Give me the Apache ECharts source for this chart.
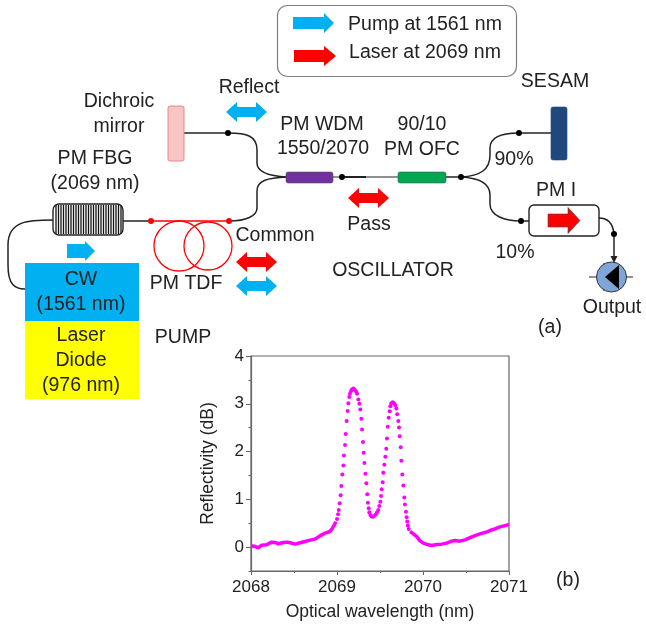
<!DOCTYPE html>
<html><head><meta charset="utf-8">
<style>html,body{margin:0;padding:0;background:#fff}#c{width:646px;height:624px}</style>
<script src="https://cdn.jsdelivr.net/npm/echarts@6/dist/echarts.min.js"></script>
</head><body><div id="c"></div>
<script>
// ---- chart data ----
const xTicks=[2068,2069,2070,2071];
const yTicks=[0,1,2,3,4];
const yHalfTicks=[-0.5,0.5,1.5,2.5,3.5];
const leftWl=[2068,2068.047,2068.085,2068.124,2068.182,2068.24,2068.279,2068.318,2068.376,2068.415,2068.453,2068.512,2068.57,2068.628,2068.686,2068.744,2068.802,2068.86,2068.919,2068.946,2068.97,2068.985];
const leftVal=[0.027,0.013,-0.015,0.04,0.048,0.104,0.097,0.07,0.097,0.104,0.09,0.062,0.09,0.117,0.146,0.167,0.236,0.292,0.326,0.397,0.466,0.535];
const peakWl=[2069,2069.012,2069.02,2069.031,2069.043,2069.05,2069.062,2069.074,2069.081,2069.093,2069.101,2069.112,2069.124,2069.132,2069.143,2069.151,2069.163,2069.174,2069.19,2069.202,2069.221,2069.233,2069.248,2069.26,2069.271,2069.283,2069.291,2069.302,2069.31,2069.319,2069.33,2069.341,2069.352,2069.36,2069.369,2069.376,2069.387,2069.403,2069.419,2069.434,2069.45,2069.465,2069.48,2069.492,2069.504,2069.512,2069.52,2069.531,2069.538,2069.55,2069.562,2069.573,2069.581,2069.59,2069.601,2069.613,2069.62,2069.631,2069.648,2069.663,2069.678,2069.69,2069.7,2069.713,2069.721,2069.729,2069.741,2069.748,2069.759,2069.771,2069.783,2069.79,2069.802,2069.81,2069.817,2069.824,2069.834];
const peakVal=[0.59,0.689,0.779,0.918,1.086,1.28,1.52,1.71,1.92,2.135,2.37,2.64,2.85,3.01,3.14,3.21,3.27,3.3,3.32,3.3,3.26,3.21,3.09,3,2.88,2.685,2.46,2.2,1.975,1.76,1.537,1.336,1.106,0.93,0.814,0.73,0.674,0.64,0.633,0.653,0.68,0.722,0.779,0.862,0.952,1.07,1.21,1.357,1.558,1.725,1.89,2.06,2.275,2.52,2.71,2.845,2.95,3.01,3.03,3.01,2.97,2.9,2.78,2.64,2.505,2.32,2.09,1.81,1.52,1.29,1.04,0.89,0.74,0.626,0.535,0.45,0.38];
const rightWl=[2069.849,2069.888,2069.927,2069.965,2070.004,2070.062,2070.101,2070.16,2070.217,2070.275,2070.333,2070.372,2070.43,2070.488,2070.547,2070.605,2070.663,2070.72,2070.779,2070.837,2070.895,2070.953,2071];
const rightVal=[0.326,0.278,0.22,0.13,0.083,0.048,0.033,0.054,0.062,0.083,0.125,0.138,0.125,0.152,0.2,0.242,0.278,0.305,0.347,0.382,0.424,0.45,0.472];
const zip=(a,b)=>a.map((v,i)=>[v,b[i]]);

// ---- schematic helpers (diagram decoration, laid out on the page) ----
const INK='#222', FONT='"Liberation Sans",Arial,sans-serif';
const BLUE='#00b0f0', RED='#ff0000';
const g=[];
const T=(s,x,y,size=19.5,extra={})=>g.push({type:'text',x,y,z:10,style:Object.assign({text:s,fill:INK,font:size+'px '+FONT,textAlign:'center',textVerticalAlign:'middle'},extra)});
const L=(x1,y1,x2,y2,c='#222',w=1.5)=>g.push({type:'line',z:3,shape:{x1,y1,x2,y2},style:{stroke:c,lineWidth:w}});
const C=(x1,y1,a,b,p,q,x2,y2,c='#222',w=1.5)=>g.push({type:'bezierCurve',z:3,shape:{x1,y1,cpx1:a,cpy1:b,cpx2:p,cpy2:q,x2,y2},style:{stroke:c,lineWidth:w,fill:null}});
const D=(x,y,c='#000',r=3)=>g.push({type:'circle',z:6,shape:{cx:x,cy:y,r},style:{fill:c}});
const R=(x,y,width,height,r,fill,stroke,w=1.2)=>g.push({type:'rect',z:4,shape:{x,y,width,height,r},style:{fill,stroke:stroke||null,lineWidth:w}});
const A1=(x1,x2,y,tw,hw,hl,c,stroke)=>g.push({type:'polygon',z:5,shape:{points:[[x1,y-tw],[x2-hl,y-tw],[x2-hl,y-hw],[x2,y],[x2-hl,y+hw],[x2-hl,y+tw],[x1,y+tw]]},style:{fill:c,stroke:stroke||null,lineWidth:stroke?0.6:0}});
const A2=(x1,x2,y,tw,hw,hl,c)=>g.push({type:'polygon',z:5,shape:{points:[[x1,y],[x1+hl,y-hw],[x1+hl,y-tw],[x2-hl,y-tw],[x2-hl,y-hw],[x2,y],[x2-hl,y+hw],[x2-hl,y+tw],[x1+hl,y+tw],[x1+hl,y+hw]]},style:{fill:c}});

// legend box
R(277.5,5.5,239,71,10,'#fff','#7f7f7f',1.2);
A1(293,334,23,6,10,10,BLUE);
A1(294,336,56,6,10,12,RED);
T('Pump at 1561 nm',425,25);
T('Laser at 2069 nm',425,53);

// upper branch
T('Reflect',249,88); A2(226,267,112,5,10,11,BLUE);
T('Dichroic',119,102); T('mirror',119,127);
R(168,106,16,55,2,'#f8c4c4','#e08c8c',1);
L(184,133,228,133); D(228,133);
C(228,133,247,133,257,136,257,150); L(257,150,257,163);
C(257,163,257,172,268,176,287,177);
C(287,177,268,178,257,180,257,191); L(257,191,257,208);
C(257,208,257,216,246,221,229,221);
T('PM WDM',322,125); T('1550/2070',323,149);
R(286,172,47,11,2,'#7030a0','#555',0.6);

// FBG
T('PM FBG',95,159); T('(2069 nm)',95,184);
for(let x=56;x<122;x+=2.5) L(x,205,x,234,'#111',1.3);
g.push({type:'rect',z:5,shape:{x:53,y:204,width:70,height:31,r:6},style:{fill:null,stroke:'#222',lineWidth:1.4}});
L(123,221,151,221);
C(53,220,30,220,8,220,8,245); L(8,245,8,265);
C(8,265,8,285,15,289,25,289);
A1(67,95,251,7,10,10,BLUE);

// TDF
L(151,221,229,221,RED,1.5); D(151,221,RED,3); D(229,221,RED,3);
g.push({type:'circle',z:3,shape:{cx:179,cy:246,r:25},style:{fill:null,stroke:RED,lineWidth:1.3}});
g.push({type:'circle',z:3,shape:{cx:208,cy:246,r:24},style:{fill:null,stroke:RED,lineWidth:1.3}});
T('PM TDF',186,284); T('Common',275,236);
A2(236,277,262,5,10,11,RED); A2(236,277,286,5,10,11,BLUE);

// pump
R(25,263,114,58,0,BLUE); R(25,321,114,78,0,'#ffff00');
T('CW',81,280); T('(1561 nm)',81,305);
T('Laser',81,336); T('Diode',81,361); T('(976 nm)',81,386);
T('PUMP',183,338);

// middle
L(333,177,398,177,'#222',1.2); L(342,177,366,177,'#222',2); D(342,177);
A2(348,389,198,5,10,11,RED); T('Pass',369,225);
T('90/10',422,125); T('PM OFC',422,150);
R(398,172,48,11,2,'#00a651','#555',0.6);
L(446,177,461,177); D(461,177);
T('OSCILLATOR',393,271);

// right branches
C(461,177,480,176,490,170,490,155); L(490,155,490,148);
C(490,148,490,136,503,133,519,133); L(519,133,551,133); D(519,133);
R(551,107,16,53,2,'#1f497d','#1f497d',0.6);
T('SESAM',555,82); T('90%',514,160);
C(461,177,480,178,490,184,490,195); L(490,195,490,204);
C(490,204,490,216,505,221,521,221); L(521,221,529,221); D(521,221);
R(529,205,70,31,5,'#fff','#222',1.4);
A1(548,580,220.5,6.5,13,12,RED,'#444');
T('PM I',556,191); T('10%',515,253);
C(599,218,608,218,613,224,614,234); D(614,234);
L(614,234,614,257);
g.push({type:'polygon',z:6,shape:{points:[[610.5,256],[617.5,256],[614,263]]},style:{fill:'#222'}});
g.push({type:'circle',z:4,shape:{cx:611.5,cy:277,r:15},style:{fill:'#7ea6d9',stroke:'#333',lineWidth:1}});
L(589,277,633,277,'#222',1.2); L(604,263,604,291,'#222',1.2); L(619,264,619,290,'#222',1.2);
g.push({type:'polygon',z:6,shape:{points:[[605,277],[619,265],[619,289]]},style:{fill:'#000'}});
T('Output',612,308); T('(a)',550,328); T('(b)',568,581);

// ---- chart ----
const AX='#666';
const chart=echarts.init(document.getElementById('c'),null,{renderer:'canvas'});
chart.setOption({
  animation:false,backgroundColor:'#fff',
  grid:{left:251,top:356,width:258,height:215,show:true,borderColor:AX,borderWidth:1.2,backgroundColor:'transparent'},
  xAxis:{type:'value',min:xTicks[0],max:xTicks[xTicks.length-1],interval:1,
    name:'Optical wavelength (nm)',nameLocation:'middle',nameGap:32,
    nameTextStyle:{fontFamily:FONT,fontSize:17.5,color:INK},
    axisLine:{show:true,onZero:false,lineStyle:{color:AX,width:1.2}},
    axisTick:{show:true,length:4,inside:false,lineStyle:{color:AX}},
    minorTick:{show:true,splitNumber:2,length:2,lineStyle:{color:AX}},
    splitLine:{show:false},minorSplitLine:{show:false},
    axisLabel:{fontFamily:FONT,fontSize:17,color:INK,margin:8,showMinLabel:true,showMaxLabel:true,hideOverlap:false,formatter:v=>String(v)}},
  yAxis:[{type:'value',min:-0.5,max:4,position:'left',
    name:'Reflectivity (dB)',nameLocation:'middle',nameGap:34,
    nameTextStyle:{fontFamily:FONT,fontSize:17.5,color:INK},
    axisLine:{show:true,onZero:false,lineStyle:{color:AX,width:1.2}},
    axisTick:{show:true,length:5,customValues:yTicks,lineStyle:{color:AX}},
    splitLine:{show:false},
    axisLabel:{fontFamily:FONT,fontSize:17,color:INK,margin:7,customValues:yTicks,formatter:v=>String(v)}},
   {type:'value',min:-0.5,max:4,position:'left',
    axisLine:{show:false},axisLabel:{show:false},splitLine:{show:false},
    axisTick:{show:true,length:2.5,customValues:yHalfTicks,lineStyle:{color:AX}}}],
  series:[
    {name:'Reflectivity (left)',type:'line',data:zip(leftWl,leftVal),showSymbol:false,symbol:'none',lineStyle:{color:'#ff00ff',width:3.5},smooth:false,clip:false,z:5},
    {name:'Reflectivity (peaks)',type:'scatter',data:zip(peakWl,peakVal),symbol:'circle',symbolSize:4,itemStyle:{color:'#ff00ff',opacity:1},clip:false,z:5},
    {name:'Reflectivity (right)',type:'line',data:zip(rightWl,rightVal),showSymbol:false,symbol:'none',lineStyle:{color:'#ff00ff',width:3.5},smooth:false,clip:false,z:5}
  ],
  graphic:{elements:g}
});
</script></body></html>
